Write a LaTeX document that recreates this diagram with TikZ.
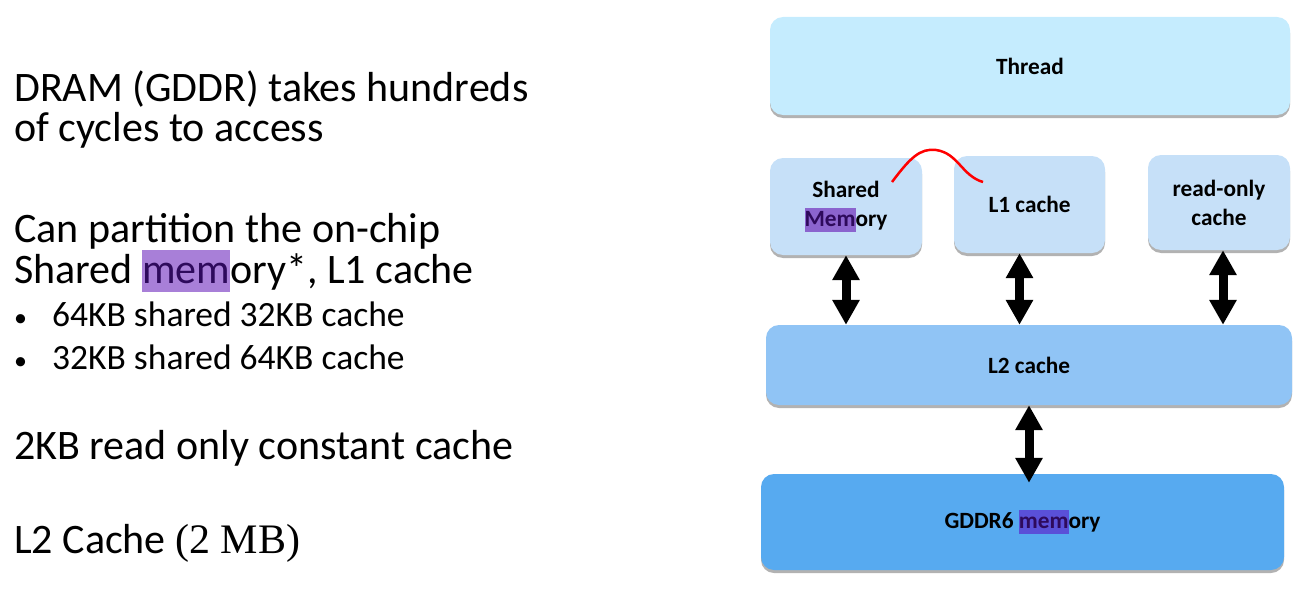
\documentclass[tikz,border=0pt]{standalone}
\usepackage{fontspec}
\setmainfont{Carlito}
\newfontfamily\timesfont{Liberation Serif}
\usetikzlibrary{arrows.meta,shadows}

\definecolor{threadblue}{HTML}{C5ECFE}
\definecolor{cacheblue}{HTML}{C6E0F8}
\definecolor{ltwoblue}{HTML}{90C4F5}
\definecolor{dramblue}{HTML}{57AAF0}
\definecolor{hlsmem}{HTML}{8B64CE}
\definecolor{hldram}{HTML}{5A50D8}
\definecolor{hltext}{HTML}{A87FD8}
\definecolor{hlfont}{HTML}{2E0A5C}

\newcommand{\hlword}[2]{{\setlength{\fboxsep}{0pt}\colorbox{#1}{\rule[-0.22em]{0pt}{1em}\color{hlfont}#2}}}
\newcommand{\itembullet}{\makebox[38pt][l]{\fontsize{26}{26}\selectfont•}}

\begin{document}
\begin{tikzpicture}[x=1pt,y=-1pt] % memory hierarchy: thread, on-chip caches, L2, DRAM
    \tikzstyle{every node}+=[inner sep=0pt]
    \tikzstyle{txt}=[anchor=base west,font=\fontsize{42}{42}\selectfont]
    \tikzstyle{subtxt}=[anchor=base west,font=\fontsize{35.5}{35.5}\selectfont]
    \tikzstyle{box}=[rounded corners=13pt,align=center,font=\bfseries\fontsize{23.3}{29}\selectfont,
        drop shadow={shadow xshift=0pt,shadow yshift=-3pt,fill=black!60,opacity=.5}]
    \tikzstyle{link}=[line width=9pt,{Triangle[width=26pt,length=25pt]}-{Triangle[width=26pt,length=25pt]}]
    \useasboundingbox (0,0) rectangle (1303,594);
    % left column
    \node[txt] (dramA) at (14,101) {DRAM (GDDR) takes hundreds};
    \node[txt] (dramB) at (14,141) {of cycles to access};
    \node[txt] (partA) at (14,242) {Can partition the on-chip};
    \node[txt] (partB) at (14,283) {Shared \hlword{hltext}{mem}ory*, L1 cache};
    \node[subtxt] (itemA) at (14,326) {\itembullet 64KB shared 32KB cache};
    \node[subtxt] (itemB) at (14,369) {\itembullet 32KB shared 64KB cache};
    \node[txt] (konst) at (14,459) {2KB read only constant cache};
    \node[txt] (ltwo) at (14,553) {L2 Cache {\timesfont(2 MB)}};
    % right column
    \node[box,fill=threadblue,minimum width=520pt,minimum height=98pt] (thread) at (1030,66) {Thread};
    \node[box,fill=cacheblue,minimum width=152pt,minimum height=97pt] (shared) at (846,206.5) {Shared\\\hlword{hlsmem}{Mem}ory};
    \node[box,fill=cacheblue,minimum width=151pt,minimum height=97pt] (l1) at (1029.5,204.5) {L1 cache};
    \node[box,fill=cacheblue,minimum width=142pt,minimum height=95pt] (ro) at (1219,202.5) {read-only\\cache};
    \node[box,fill=ltwoblue,minimum width=526pt,minimum height=80pt] (l2) at (1029,365) {L2 cache};
    \node[box,fill=dramblue,minimum width=523pt,minimum height=96pt] (gddr) at (1022.5,522) {GDDR6 \hlword{hldram}{mem}ory};
    \draw[link] (shared.south) -- (shared.south |- l2.north);
    \draw[link] ([xshift=-10pt]l1.south) -- ([xshift=-10pt]l1.south |- l2.north);
    \draw[link] ([xshift=4pt]ro.south) -- ([xshift=4pt]ro.south |- l2.north);
    \draw[link] (l2.south) -- ([yshift=-9pt]l2.south |- gddr.north);
    \draw[red,line width=2.5pt] (892,182) .. controls (910,158) and (920,148) .. (936,150)
        .. controls (958,153) and (962,176) .. (983,182);
\end{tikzpicture}
\end{document}
